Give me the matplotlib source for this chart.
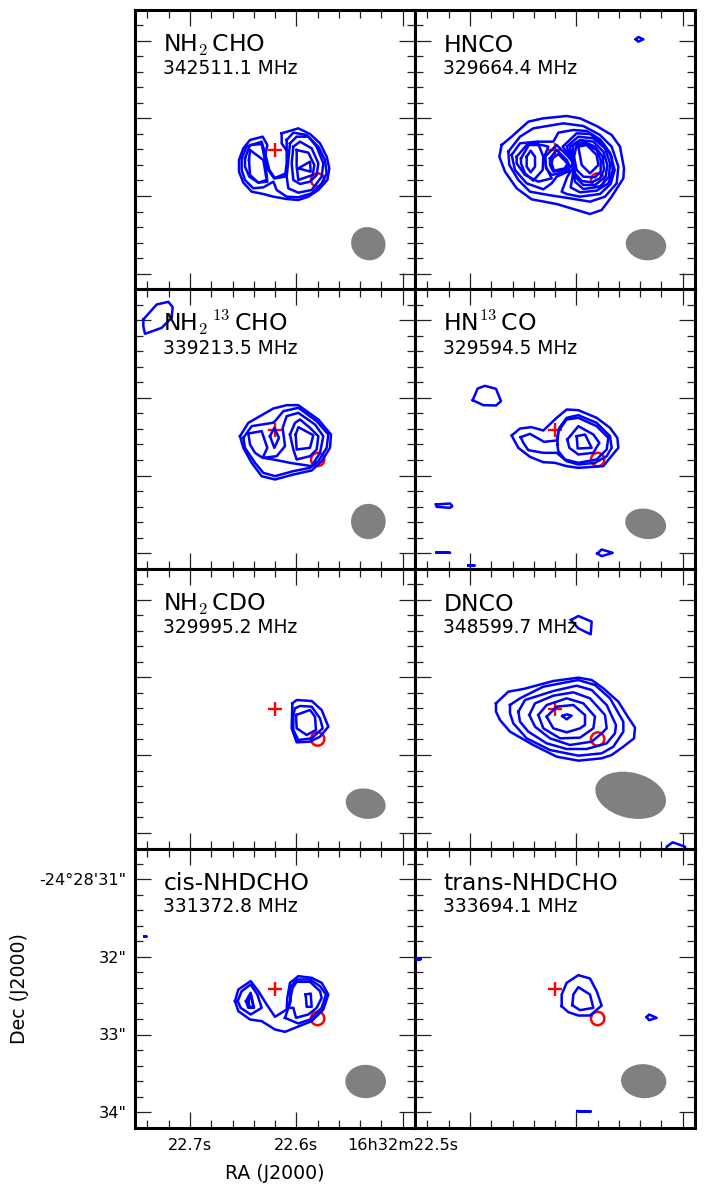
import matplotlib
matplotlib.use('Agg')
import matplotlib.pyplot as plt
from matplotlib.patches import Ellipse, Circle

plt.rcParams['font.family'] = ['DejaVu Sans']
plt.rcParams['mathtext.fontset'] = 'cm'
plt.rcParams['mathtext.default'] = 'rm'

# contour vertices in map units (1/3 pixel), per panel
nh2cho = [
    [(455,400),(505,385),(540,402),(570,430),(590,470),(598,505),(592,540),(565,570),(535,590),(505,600),(470,597),(430,590),(400,582),(365,575),(340,548),(327,515),(327,480),(340,445),(360,420),(398,410),(412,435),(405,470),(412,505),(432,535),(468,520),(472,490),(472,455),(455,430)],
    [(470,420),(490,398),(530,405),(565,440),(585,480),(590,520),(575,550),(545,580),(505,592),(470,590),(440,570),(430,545),(400,562),(370,565),(345,540),(335,510),(335,475),(350,440),(395,425),(408,470),(418,510),(435,535),(465,530),(470,490)],
    [(480,430),(500,410),(535,410),(560,440),(580,490),(575,530),(545,570),(505,578),(475,565),(470,530),(475,480)],
    [(345,475),(360,435),(395,432),(405,480),(412,545),(385,548),(358,530),(345,500)],
    [(357,480),(360,450),(400,480),(410,540),(385,548),(360,525)],
    [(490,440),(510,425),(545,445),(565,490),(560,525),(540,545),(510,552),(490,540),(485,490)],
    [(500,450),(535,458),(553,495),(548,525),(505,540),(500,500)],
    [(505,505),(540,485),(542,515)],
]
hnco = [
    [(275,435),(305,410),(355,365),(400,355),(470,348),(510,355),(560,378),(605,405),(630,440),(642,505),(640,535),(605,590),(575,630),(540,642),(500,630),(440,612),(365,598),(320,565),(285,515),(268,470)],
    [(295,455),(330,410),(370,385),(460,370),(520,378),(570,405),(605,440),(625,500),(620,550),(585,590),(540,605),(480,595),(415,585),(360,575),(325,540),(298,495)],
    [(305,465),(330,430),(380,425),(430,425),(445,398),(490,390),(530,393),(570,418),(600,458),(614,510),(602,552),(570,582),(510,590),(470,582),(455,575),(472,530),(485,510),(440,530),(425,550),(400,568),(350,550),(315,510)],
    [(320,470),(350,435),(395,435),(415,440),(405,465),(408,500),(425,535),(385,545),(345,525),(320,490)],
    [(333,475),(358,432),(385,432),(400,470),(398,510),(370,542),(345,520),(333,490)],
    [(350,470),(362,452),(375,470),(375,500),(362,517),(350,500)],
    [(405,470),(440,435),(475,470),(490,490),(470,515),(425,525),(408,505)],
    [(420,475),(440,450),(470,480),(478,495),(465,510),(430,515),(420,495)],
    [(428,475),(445,462),(472,490),(465,505),(432,512),(425,490)],
    [(488,480),(458,440),(500,400),(540,402),(580,432),(605,470),(608,512),(595,550),(560,572),(510,577),(482,562),(490,515)],
    [(488,480),(470,440),(505,410),(550,415),(585,445),(600,490),(597,530),(570,560),(520,567),(495,545),(488,510)],
    [(488,480),(480,440),(510,420),(550,425),(580,455),(592,495),(587,530),(555,555),(520,555),(495,530)],
    [(488,480),(490,435),(520,425),(555,440),(578,470),(582,510),(570,535),(545,547),(515,543),(495,520)],
    [(492,470),(500,435),(525,432),(560,450),(572,480),(572,515),(555,532),(520,530),(500,510)],
    [(505,440),(530,435),(560,465),(565,495),(540,520),(515,495)],
    [(677,118),(685,111),(700,118),(685,125)],
]
nh2_13cho = [
    [(330,455),(355,415),(430,372),(470,362),(505,362),(565,405),(603,450),(600,490),(575,530),(545,558),(490,570),(435,585),(395,575),(365,535),(340,490)],
    [(340,460),(365,425),(428,415),(435,410),(460,380),(505,370),(560,410),(595,450),(590,490),(565,530),(540,550),(490,560),(435,575),(400,565),(375,535),(345,490)],
    [(400,520),(440,515),(465,485),(458,430),(470,395),(505,385),(555,420),(580,455),(570,505),(545,545),(480,535),(430,525)],
    [(355,447),(395,440),(412,490),(398,520),(375,505),(360,480)],
    [(420,455),(433,430),(447,460),(433,490)],
    [(480,450),(495,415),(510,405),(540,430),(565,455),(560,495),(540,515),(500,525),(490,495)],
    [(497,450),(505,428),(550,452),(540,490),(500,495)],
    [(40,105),(80,60),(115,52),(128,68),(125,100),(95,130),(45,148),(40,125)],
]
hn13co = [
    [(188,347),(203,312),(225,304),(258,313),(273,350),(258,363),(220,362)],
    [(305,453),(330,432),(365,428),(400,438),(440,400),(470,375),(505,377),(560,400),(600,430),(622,460),(625,490),(600,520),(580,545),(505,550),(470,545),(435,535),(400,533),(360,517),(325,490)],
    [(332,458),(360,448),(390,465),(402,472),(440,468),(448,430),(470,400),(505,392),(560,415),(600,455),(605,490),(590,515),(555,535),(505,540),(470,530),(440,505),(400,505),(355,497),(340,475)],
    [(442,480),(445,440),(470,405),(505,400),(560,425),(595,460),(590,495),(560,525),(505,535),(465,525),(445,500)],
    [(472,465),(505,425),(550,450),(568,475),(550,505),(505,510),(478,490)],
    [(500,455),(525,450),(545,490),(503,492)],
    [(78,660),(120,657),(127,665),(120,670),(80,667)],
    [(80,804),(120,805)],
    [(562,807),(575,795),(608,805),(575,815)],
    [(175,840),(193,840)],
]
nh2cdo = [
    [(487,415),(500,405),(545,408),(575,435),(595,485),(570,515),(540,530),(500,532),(485,490)],
    [(495,430),(510,423),(545,425),(570,460),(578,490),(545,520),(505,525),(490,495),(490,450)],
    [(498,450),(540,435),(555,455),(558,495),(530,510),(500,490)],
]
dnco = [
    [(483,165),(505,153),(545,170),(542,208),(505,190)],
    [(770,862),(770,845),(788,832),(825,845),(825,862)],
    [(258,415),(295,380),(340,372),(430,348),(505,338),(545,345),(580,370),(625,410),(650,450),(675,488),(672,520),(640,545),(605,570),(575,580),(505,587),(440,575),(370,540),(300,500),(270,465),(258,440)],
    [(300,420),(330,400),(400,365),(505,345),(555,360),(600,400),(640,470),(640,500),(610,545),(575,565),(505,572),(420,555),(350,520),(310,475),(300,445)],
    [(325,440),(345,405),(430,378),(500,362),(545,375),(590,420),(618,480),(615,505),(590,535),(530,552),(470,552),(410,535),(355,500),(330,470)],
    [(358,450),(375,415),(430,392),(490,382),(540,400),(585,450),(590,490),(575,505),(545,530),(480,540),(420,520),(375,485)],
    [(385,450),(410,420),(470,400),(520,415),(555,455),(550,490),(510,518),(450,520),(400,490)],
    [(410,455),(440,425),(490,420),(525,450),(525,480),(510,490),(470,502),(430,490)],
    [(457,453),(470,448),(485,452),(470,463)],
]
cis_nhdcho = [
    [(705,470),(715,435),(752,410),(775,440),(800,480),(825,517),(860,495),(862,460),(870,415),(895,395),(935,400),(965,415),(985,450),(970,495),(935,530),(890,548),(855,562),(825,555),(785,530),(750,525),(715,500)],
    [(713,470),(725,440),(752,420),(772,450),(785,490),(752,510),(722,490)],
    [(738,470),(752,445),(762,490),(745,490)],
    [(745,470),(752,450),(760,487),(748,487)],
    [(855,520),(872,470),(870,430),(890,405),(930,405),(960,425),(978,450),(965,490),(930,525),(895,537)],
    [(865,490),(878,430),(890,412),(930,412),(960,440),(965,460),(950,490),(925,510),(888,520),(880,490)],
    [(917,450),(932,447),(935,487),(920,487)],
    [(432,273),(437,273)],
]
trans_nhdcho = [
    [(455,485),(455,450),(470,415),(505,392),(540,402),(560,440),(575,483),(540,513),(505,513),(475,503)],
    [(487,482),(490,450),(505,428),(540,450),(550,490),(510,497)],
    [(710,518),(717,510),(740,520),(717,527)],
    [(502,800),(542,801)],
    [(10,348),(32,344)],
]

titles = [r'NH$_2\,$CHO', 'HNCO', r'NH$_2\,^{13}\,$CHO', r'HN$^{13}\,$CO',
          r'NH$_2\,$CDO', 'DNCO', 'cis-NHDCHO', 'trans-NHDCHO']
freqs = ['342511.1 MHz', '329664.4 MHz', '339213.5 MHz', '329594.5 MHz',
         '329995.2 MHz', '348599.7 MHz', '331372.8 MHz', '333694.1 MHz']
contours = [nh2cho, hnco, nh2_13cho, hn13co, nh2cdo, dnco, cis_nhdcho, trans_nhdcho]
# crop origin of each panel's vertices
origins = [(15, 30), (15, 30), (15, 15), (15, 15), (15, 12), (15, 12), (405, 12), (15, 12)]
# beam: centre x, centre y, width, height, angle
beams = [(715, 731, 105, 98, 30), (708, 734, 122, 93, 10), (715, 711, 104, 106, 0),
         (707, 718, 124, 90, 12), (707, 716, 121, 90, 12), (662, 691, 216, 136, 14),
         (1097, 711, 122, 100, 0), (701, 710, 136, 102, 4)]

ra_major = [22.7, 22.6, 22.5]
ra_major_labels = ['22.7s', '22.6s', '16h32m22.5s']
ra_minor = [22.74, 22.72, 22.68, 22.66, 22.64, 22.62, 22.58, 22.56, 22.54, 22.52]
dec_major = [31, 32, 33, 34]
dec_major_labels = ['-24\u00b028\'31"', '32"', '33"', '34"']
dec_minor = [30.8, 31.2, 31.4, 31.6, 31.8, 32.2, 32.4, 32.6, 32.8, 33.2, 33.4, 33.6, 33.8]


def ra_to_map(ra):
    return 165 + (22.7 - ra) * 3190


def dec_to_map(dec):
    return 92 + (dec - 31) * 233


W, H = 707, 1192
fig = plt.figure(figsize=(W / 100, H / 100), dpi=100)

for i in range(8):
    row, col = i // 2, i % 2
    left = 135 + col * 280
    top = 10 + row * 279.5
    ax = fig.add_axes([left / W, 1 - (top + 279.5) / H, 280 / W, 279.5 / H])
    ax.set_xlim(0, 840)
    ax.set_ylim(838.5, 0)
    ox, oy = origins[i]

    # red markers sit under the contours
    ax.plot([419], [420], marker='+', color='red', ms=9.5, mew=1.7, zorder=2)
    ax.add_patch(Circle((548, 510), 20, fill=False, ec='red', lw=1.8, zorder=2))

    bx, by, bw, bh, ang = beams[i]
    ax.add_patch(Ellipse((bx - ox, by - oy), bw, bh, angle=ang, color='#808080', lw=0, zorder=1))

    for c in contours[i]:
        xs = [p[0] - ox for p in c] + [c[0][0] - ox]
        ys = [p[1] - oy for p in c] + [c[0][1] - oy]
        ax.plot(xs, ys, color='blue', lw=1.8, zorder=3)

    ax.text(85, 125, titles[i], fontsize=16.9, va='baseline', ha='left', zorder=4)
    ax.text(85, 192, freqs[i], fontsize=13.4, va='baseline', ha='left', zorder=4)

    ax.set_xticks([ra_to_map(v) for v in ra_major])
    ax.set_xticks([ra_to_map(v) for v in ra_minor], minor=True)
    ax.set_yticks([dec_to_map(v) for v in dec_major])
    ax.set_yticks([dec_to_map(v) for v in dec_minor], minor=True)
    ax.tick_params(which='both', direction='in', top=True, right=True, width=0.9, color='#222222')
    ax.tick_params(which='major', length=11.8)
    ax.tick_params(which='minor', length=5.8)
    for s in ax.spines.values():
        s.set_linewidth(2.2)

    if i == 6:
        ax.set_xticklabels(ra_major_labels, fontsize=11.6)
        ax.set_yticklabels(dec_major_labels, fontsize=11.6)
        ax.tick_params(axis='x', which='major', pad=7)
        ax.tick_params(axis='y', which='major', pad=6)
        ax.set_xlabel('RA (J2000)', fontsize=13.6, labelpad=8)
        ax.set_ylabel('Dec (J2000)', fontsize=13.6, labelpad=8)
    else:
        ax.tick_params(labelbottom=False, labelleft=False)

fig.savefig('out.png', dpi=100)
